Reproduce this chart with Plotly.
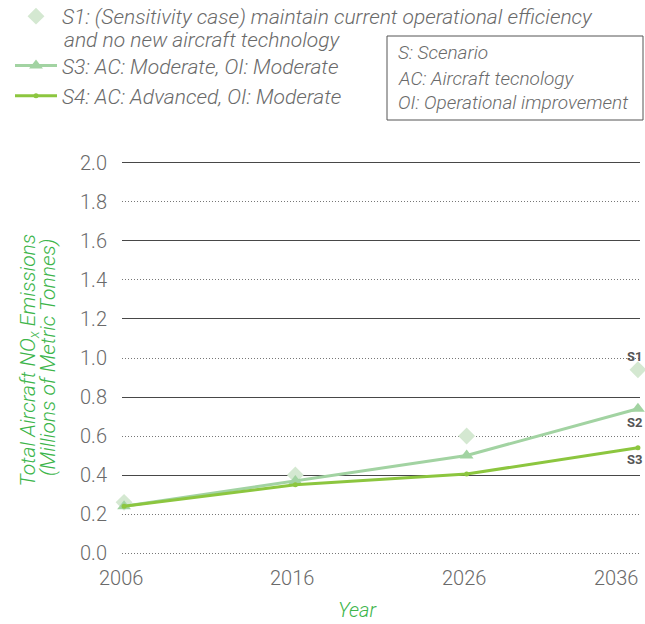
import plotly.graph_objects as go

# -- Data --------------------------------------------------------------------

years = [2006, 2016, 2026, 2036]
year_labels = ["2006", "2016", "2026", "2036"]

s1_values = [0.26, 0.40, 0.60, 0.94]
s3_values = [0.24, 0.37, 0.50, 0.74]
s4_values = [0.24, 0.35, 0.405, 0.54]

end_labels = ["S1", "S2", "S3"]
end_label_y = [1.01, 0.67, 0.48]

names = [
    "S1: (Sensitivity case) maintain current operational efficiency",
    "S3: AC: Moderate, OI: Moderate",
    "S4: AC: Advanced, OI: Moderate",
]
s1_name_cont = "and no new aircraft technology"

key_lines = ["S: Scenario", "AC: Aircraft tecnology", "OI: Operational improvement"]

FONT = "Roboto"
GRAY = "#6a6a6a"
GREEN_TITLE = "#3cb54a"

W, H = 645, 624
L, T, B, R = 122, 161, 69, 5
PW, PH = W - L - R, H - T - B


def px(x):  # page x -> paper x
    return (x - L) / PW


def py(y):  # page y -> paper y
    return (H - B - y) / PH


ital = dict(family=FONT, color=GRAY, style="italic", weight=300)

# -- Figure ------------------------------------------------------------------

fig = go.Figure()

fig.add_trace(go.Scatter(
    x=years, y=s1_values, name=names[0], mode="markers", legendgroup="a",
    marker=dict(symbol="diamond", size=13, color="#d4e8d1"),
    cliponaxis=False,
))
fig.add_trace(go.Scatter(
    x=years, y=s3_values, name=names[1], mode="lines+markers", legendgroup="b",
    line=dict(color="#a2d3a2", width=3),
    marker=dict(symbol="triangle-up", size=12, color="#a2d3a2"),
    cliponaxis=False,
))
fig.add_trace(go.Scatter(
    x=years, y=s4_values, name=names[2], mode="lines+markers", legendgroup="b",
    line=dict(color="#8cc63f", width=3),
    marker=dict(symbol="circle", size=5, color="#8cc63f"),
    cliponaxis=False,
))

# second line of the S1 legend entry
fig.add_annotation(x=px(62), y=py(40), xref="paper", yref="paper", text=s1_name_cont,
                   showarrow=False, xanchor="left", yanchor="middle",
                   font=dict(ital, size=21))

# end-of-line scenario tags
for txt, yv in zip(end_labels, end_label_y):
    fig.add_annotation(x=years[-1], y=yv, text=f"<b>{txt}</b>", showarrow=False,
                       xanchor="right", xshift=6,
                       font=dict(family=FONT, size=13, color="#555555"))

# x tick labels (last one pulled inside the page)
for i, (xv, lab) in enumerate(zip(years, year_labels)):
    last = i == len(years) - 1
    fig.add_annotation(x=xv, y=py(578), yref="paper", text=lab, showarrow=False,
                       yanchor="middle", xshift=2 if last else -3,
                       xanchor="right" if last else "center",
                       font=dict(family=FONT, size=20, color=GRAY, weight=300))

# axis titles
title_font = dict(ital, size=20, color=GREEN_TITLE)
fig.add_annotation(x=px(357), y=py(610), xref="paper", yref="paper", yanchor="middle",
                   text="Year", showarrow=False, font=title_font)
fig.add_annotation(x=px(13), y=py(360), xref="paper", yref="paper", textangle=-90,
                   text="Total Aircraft NO<sub>x</sub> Emissions",
                   showarrow=False, font=dict(title_font, size=21))
fig.add_annotation(x=px(34), y=py(358), xref="paper", yref="paper", textangle=-90,
                   text="(Millions of Metric Tonnes)",
                   showarrow=False, font=dict(title_font, size=21))

# key box
fig.add_shape(type="rect", xref="paper", yref="paper",
              x0=px(387), x1=px(643), y0=py(36), y1=py(120),
              line=dict(color="#555555", width=1))
for txt, yy in zip(key_lines, [52, 78, 103]):
    fig.add_annotation(x=px(396), y=py(yy), xref="paper", yref="paper",
                       text=txt, showarrow=False, xanchor="left", yanchor="middle",
                       font=dict(ital, size=19))

fig.update_layout(
    width=W, height=H,
    margin=dict(l=L, r=R, t=T, b=B, autoexpand=False),
    plot_bgcolor="white", paper_bgcolor="white",
    font=dict(family=FONT, color=GRAY),
    legend=dict(
        x=px(10), y=py(-4), xanchor="left", yanchor="top",
        font=dict(ital, size=21),
        tracegroupgap=19, itemwidth=42, traceorder="grouped",
        bgcolor="rgba(0,0,0,0)",
    ),
    xaxis=dict(
        range=[2005.88, 2036.12], showgrid=False, zeroline=False,
        showticklabels=False, showline=False, ticks="",
    ),
    yaxis=dict(
        range=[-0.01, 2.01], tickvals=[0, 0.2, 0.4, 0.6, 0.8, 1.0, 1.2, 1.4, 1.6, 1.8, 2.0],
        tickformat=".1f", showgrid=True, gridcolor="#777777", gridwidth=1,
        griddash="1px,2px", zeroline=False, showline=False,
        ticklabelstandoff=14,
        tickfont=dict(family=FONT, size=20, color=GRAY, weight=300),
    ),
    yaxis2=dict(
        range=[-0.01, 2.01], overlaying="y", tickvals=[0.4, 0.8, 1.2, 1.6, 2.0],
        showticklabels=False, showgrid=True, gridcolor="#484848", gridwidth=1.3,
        zeroline=False, showline=False,
    ),
)

# invisible trace to bind yaxis2 so its grid renders
fig.add_trace(go.Scatter(x=[years[0]], y=[0], yaxis="y2", mode="markers",
                         marker=dict(opacity=0), showlegend=False, hoverinfo="skip"))

fig.write_html("out.html", config={"displayModeBar": False},
               post_script="document.body.style.margin='0px';")
